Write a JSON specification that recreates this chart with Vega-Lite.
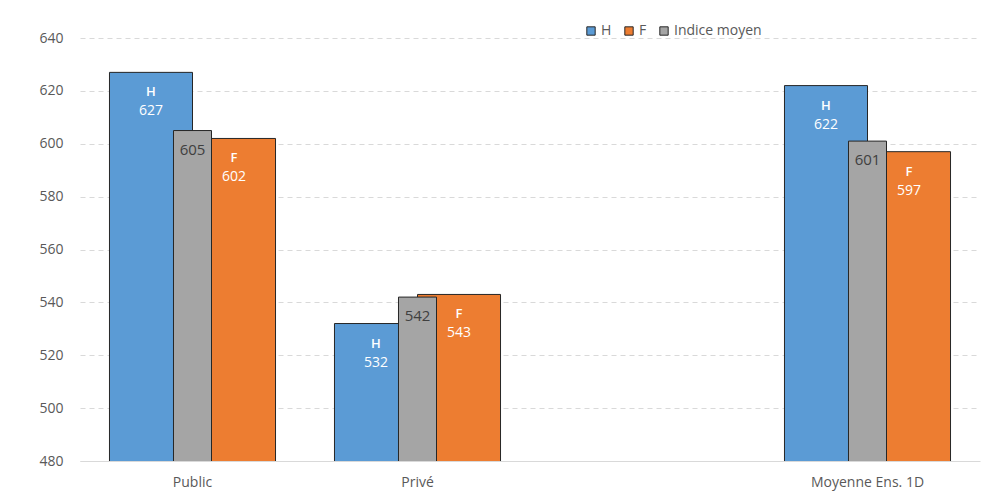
{
  "$schema": "https://vega.github.io/schema/vega-lite/v6.json",
  "autosize": "none",
  "width": 900,
  "height": 423,
  "padding": {"left": 80, "top": 38, "right": 3, "bottom": 43},
  "background": "white",
  "config": {
    "font": "Open Sans",
    "view": {"stroke": null},
    "axis": {"labelFont": "Open Sans", "labelColor": "#595959", "labelFontSize": 14}
  },
  "datasets": {
    "hf": [
      {"cat": "Public", "serie": "H", "value": 627},
      {"cat": "Public", "serie": "F", "value": 602},
      {"cat": "Privé", "serie": "H", "value": 532},
      {"cat": "Privé", "serie": "F", "value": 543},
      {"cat": "Moyenne Ens. 1D", "serie": "H", "value": 622},
      {"cat": "Moyenne Ens. 1D", "serie": "F", "value": 597}
    ],
    "moy": [
      {"cat": "Public", "serie": "Indice moyen", "value": 605},
      {"cat": "Privé", "serie": "Indice moyen", "value": 542},
      {"cat": "Moyenne Ens. 1D", "serie": "Indice moyen", "value": 601}
    ]
  },
  "encoding": {
    "x": {
      "field": "cat", "type": "nominal",
      "scale": {"domain": ["Public", "Privé", " ", "Moyenne Ens. 1D"], "paddingInner": 0.262, "paddingOuter": 0.131},
      "sort": null,
      "axis": {"title": null, "labelAngle": 0, "ticks": false, "domainColor": "#D9D9D9", "domainWidth": 1, "labelPadding": 14}
    },
    "y": {
      "field": "value", "type": "quantitative",
      "scale": {"domain": [480, 640], "zero": false, "nice": false},
      "axis": {"title": null, "values": [480, 500, 520, 540, 560, 580, 600, 620, 640], "ticks": false, "domain": false, "labelPadding": 17, "gridColor": "#D9D9D9", "gridDash": [5, 4], "gridWidth": 1}
    }
  },
  "layer": [
    {
      "data": {"name": "hf"},
      "mark": {"type": "bar", "stroke": "#262626", "strokeWidth": 1, "clip": true},
      "encoding": {
        "xOffset": {"field": "serie", "type": "nominal", "scale": {"domain": ["H", "F"], "paddingInner": 0, "paddingOuter": 0}},
        "color": {
          "field": "serie", "type": "nominal",
          "scale": {"domain": ["H", "F", "Indice moyen"], "range": ["#5B9BD5", "#ED7D31", "#A5A5A5"]},
          "legend": {
            "title": null, "orient": "none", "direction": "horizontal", "legendX": 504, "legendY": -14,
            "symbolType": "square", "symbolSize": 70, "symbolStrokeColor": "#262626", "symbolStrokeWidth": 1,
            "labelFontSize": 14, "labelColor": "#595959", "labelFont": "Open Sans", "columnPadding": 10, "symbolOffset": 0, "labelOffset": 3
          }
        }
      }
    },
    {
      "data": {"name": "moy"},
      "mark": {"type": "bar", "stroke": "#262626", "strokeWidth": 1, "clip": true, "width": {"band": 0.229}},
      "encoding": {
        "color": {"field": "serie", "type": "nominal"}
      }
    },
    {
      "data": {"name": "hf"},
      "mark": {"type": "text", "color": "white", "baseline": "middle", "dy": 20, "fontSize": 13, "fontWeight": 600},
      "encoding": {
        "xOffset": {"field": "serie", "type": "nominal"},
        "text": {"field": "serie"}
      }
    },
    {
      "data": {"name": "hf"},
      "mark": {"type": "text", "color": "white", "baseline": "middle", "dy": 39, "fontSize": 14},
      "encoding": {
        "xOffset": {"field": "serie", "type": "nominal"},
        "text": {"field": "value"}
      }
    },
    {
      "data": {"name": "moy"},
      "mark": {"type": "text", "color": "#404040", "baseline": "middle", "dy": 19, "fontSize": 15},
      "encoding": {
        "text": {"field": "value"}
      }
    }
  ]
}
